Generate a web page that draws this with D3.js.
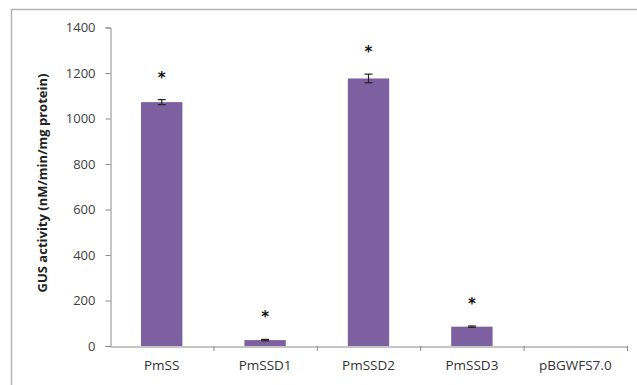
<!DOCTYPE html>
<html>
<head>
<meta charset="utf-8">
<script src="https://cdn.jsdelivr.net/npm/d3@7"></script>
<style>
  body { margin: 0; background: #fff; }
  svg { display: block; }
</style>
</head>
<body>
<main></main>
<script>
// data
let categories = ['PmSS', 'PmSSD1', 'PmSSD2', 'PmSSD3', 'pBGWFS7.0']
let values = [1072, 26, 1176, 85, 0]
let errors = [11, 3, 19, 3, 0]
let significant = [true, true, true, true, false]
let yTicks = [0, 200, 400, 600, 800, 1000, 1200, 1400]

let width = 637, height = 385
let font = '"Open Sans", Lato, sans-serif'

let svg = d3.select('main')
    .append('svg')
    .attr('width', width)
    .attr('height', height)

// outer chart border (only top and left visible)
svg.append('path')
    .attr('d', 'M11.5,385 L11.5,9.5 L637,9.5')
    .style('fill', 'none')
    .style('stroke', '#b4b4b4')
    .style('stroke-width', 1.5)

let x = d3.scaleBand()
    .domain(categories)
    .range([110, 627])
    .paddingInner(0.6)
    .paddingOuter(0.3)

let xAxisScale = d3.scaleBand().domain(categories).range([110, 627])

let y = d3.scaleLinear()
    .domain([0, 1400])
    .range([346, 27.5])

// y axis
let yAxis = svg.append('g')
    .attr('transform', 'translate(110.5,0)')
    .call(d3.axisLeft(y).tickValues(yTicks).tickFormat(d3.format('d')).tickSize(5).tickPadding(10))
yAxis.select('.domain').style('stroke', '#8a8a8a')
yAxis.selectAll('.tick line').style('stroke', '#8a8a8a')
yAxis.selectAll('.tick text')
    .style('font-family', font)
    .style('font-size', '13px')
    .style('fill', '#404040')

// x axis
let xAxis = svg.append('g')
    .attr('transform', 'translate(0,346.5)')
    .call(d3.axisBottom(xAxisScale).tickSize(0).tickPadding(14))
xAxis.select('.domain').style('stroke', '#8a8a8a')
xAxis.selectAll('.tick text')
    .style('font-family', font)
    .style('font-size', '13.5px')
    .style('fill', '#333')

// category separator ticks
svg.append('g')
    .selectAll('line')
    .data(categories)
    .join('line')
    .attr('x1', d => xAxisScale(d) + xAxisScale.bandwidth() + 0.5)
    .attr('x2', d => xAxisScale(d) + xAxisScale.bandwidth() + 0.5)
    .attr('y1', 346)
    .attr('y2', 351)
    .style('stroke', '#8a8a8a')

// bars
svg.append('g')
    .selectAll('rect')
    .data(categories)
    .join('rect')
    .attr('x', d => x(d))
    .attr('width', x.bandwidth())
    .attr('y', (d, i) => y(values[i]))
    .attr('height', (d, i) => y(0) - y(values[i]))
    .style('fill', '#7d60a0')

// error bars
let eb = svg.append('g')
    .selectAll('g')
    .data(categories.filter((d, i) => errors[i] > 0))
    .join('g')
    .style('stroke', '#222')
    .style('stroke-width', 1.2)
eb.append('line')
    .attr('x1', d => x(d) + x.bandwidth() / 2)
    .attr('x2', d => x(d) + x.bandwidth() / 2)
    .attr('y1', d => y(values[categories.indexOf(d)] - errors[categories.indexOf(d)]))
    .attr('y2', d => y(values[categories.indexOf(d)] + errors[categories.indexOf(d)]))
eb.append('line')
    .attr('x1', d => x(d) + x.bandwidth() / 2 - 4)
    .attr('x2', d => x(d) + x.bandwidth() / 2 + 4)
    .attr('y1', d => y(values[categories.indexOf(d)] + errors[categories.indexOf(d)]))
    .attr('y2', d => y(values[categories.indexOf(d)] + errors[categories.indexOf(d)]))
eb.append('line')
    .attr('x1', d => x(d) + x.bandwidth() / 2 - 4)
    .attr('x2', d => x(d) + x.bandwidth() / 2 + 4)
    .attr('y1', d => y(values[categories.indexOf(d)] - errors[categories.indexOf(d)]))
    .attr('y2', d => y(values[categories.indexOf(d)] - errors[categories.indexOf(d)]))

// significance stars
svg.append('g')
    .selectAll('text')
    .data(categories.filter((d, i) => significant[i]))
    .join('text')
    .attr('x', d => x(d) + x.bandwidth() / 2)
    .attr('y', d => y(values[categories.indexOf(d)] + errors[categories.indexOf(d)]) - 17)
    .attr('text-anchor', 'middle')
    .style('font-family', '"DejaVu Sans", sans-serif')
    .style('font-weight', 'bold')
    .style('font-size', '15px')
    .style('fill', '#111')
    .text('*')

// y axis title
svg.append('text')
    .attr('transform', 'translate(47,183) rotate(-90)')
    .attr('text-anchor', 'middle')
    .style('font-family', font)
    .style('font-weight', 'bold')
    .style('font-size', '13px')
    .style('fill', '#222')
    .text('GUS activity (nM/min/mg protein)')
</script>
</body>
</html>
